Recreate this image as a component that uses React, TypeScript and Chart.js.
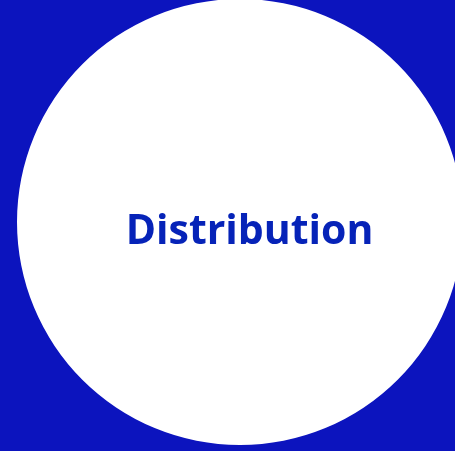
import React, { useEffect, useRef } from "react";
import { Chart, registerables } from "chart.js";

Chart.register(...registerables);

const labels = ["Distribution"];
const values = [100];
const sliceColors = ["#ffffff"];
const pageBg = "#0c14be";
const textColor = "#0623b8";

const centerLabel = {
  id: "centerLabel",
  afterDraw(chart: any) {
    const ctx = chart.ctx;
    ctx.save();
    ctx.fillStyle = textColor;
    ctx.font = "bold 41px 'Open Sans'";
    ctx.textAlign = "center";
    ctx.textBaseline = "alphabetic";
    ctx.fillText(String(chart.data.labels[0]), 232.5, 245);
    ctx.restore();
  },
};

export default function App() {
  const ref = useRef<HTMLCanvasElement | null>(null);
  useEffect(() => {
    if (!ref.current) return;
    const chart = new Chart(ref.current, {
      type: "pie",
      data: {
        labels,
        datasets: [
          {
            data: values,
            backgroundColor: sliceColors,
            borderWidth: 0,
          },
        ],
      },
      options: {
        animation: false,
        responsive: false,
        layout: { padding: 0 },
        plugins: {
          legend: { display: false },
          tooltip: { enabled: false },
          title: { display: false },
        },
      },
      plugins: [centerLabel],
    });
    return () => chart.destroy();
  }, []);
  return (
    <div
      style={{
        position: "fixed",
        left: 0,
        top: 0,
        width: 455,
        height: 451,
        overflow: "hidden",
        background: pageBg,
      }}
    >
      <canvas
        ref={ref}
        width={446}
        height={446}
        style={{ position: "absolute", left: 17, top: -1, width: 446, height: 446 }}
      />
    </div>
  );
}
